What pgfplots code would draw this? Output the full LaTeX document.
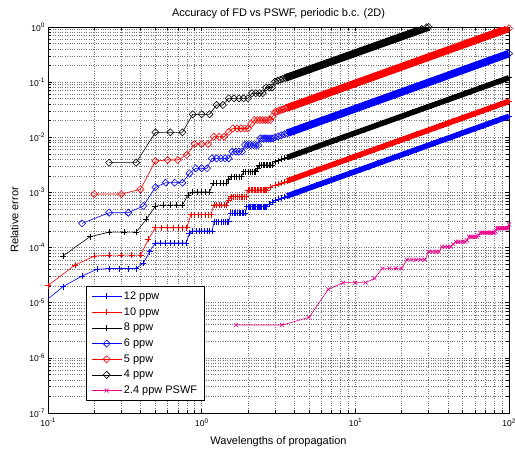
\documentclass[border=0pt]{standalone}
\usepackage{fontspec}
\setmainfont{Liberation Sans}
\usepackage{pgfplots}
\pgfplotsset{compat=1.18}
\newcommand{\tl}[1]{10\raisebox{0.85ex}{\fontsize{6.5}{7}\selectfont #1}}
\begin{document}
\begin{tikzpicture}
\begin{loglogaxis}[
 scale only axis, width=461bp, height=386bp,
 xmin=0.1, xmax=100, ymin=1e-7, ymax=1,
 xtick={0.1,1,10,100},
 xticklabels={\tl{-1},\tl{0},\tl{1},\tl{2}},
 ytick={1e-7,1e-6,1e-5,1e-4,1e-3,1e-2,1e-1,1},
 yticklabels={\tl{-7},\tl{-6},\tl{-5},\tl{-4},\tl{-3},\tl{-2},\tl{-1},\tl{0}},
 minor xtick={0.2,0.3,0.4,0.5,0.6,0.7,0.8,0.9,2,3,4,5,6,7,8,9,20,30,40,50,60,70,80,90},
 minor ytick={2e-7,3e-7,4e-7,5e-7,6e-7,7e-7,8e-7,9e-7,2e-6,3e-6,4e-6,5e-6,6e-6,7e-6,8e-6,9e-6,2e-5,3e-5,4e-5,5e-5,6e-5,7e-5,8e-5,9e-5,2e-4,3e-4,4e-4,5e-4,6e-4,7e-4,8e-4,9e-4,2e-3,3e-3,4e-3,5e-3,6e-3,7e-3,8e-3,9e-3,0.02,0.03,0.04,0.05,0.06,0.07,0.08,0.09,0.2,0.3,0.4,0.5,0.6,0.7,0.8,0.9},
 grid=both,
 major grid style={dotted, black!55, line width=0.5bp},
 minor grid style={dotted, black!55, line width=0.5bp},
 axis line style={line width=0.8bp},
 tick style={black, line width=0.5bp},
 tick label style={font=\fontsize{8.5}{10}\selectfont},
 xticklabel style={yshift=-2bp},
 label style={font=\fontsize{11}{13}\selectfont},
 xlabel style={yshift=-3bp},
 ylabel style={yshift=4bp},
 title style={font=\fontsize{11}{13}\selectfont, yshift=-1.5bp},
 title={Accuracy of FD vs PSWF, periodic b.c. (2D)},
 xlabel={Wavelengths of propagation},
 ylabel={Relative error},
 legend cell align=left,
 legend style={at={(0.0824,0.0311)}, anchor=south west, draw=black, line width=0.8bp, fill=white, font=\fontsize{11}{13}\selectfont, inner xsep=5bp, inner ysep=3.5bp, row sep=2.6bp},
 legend image code/.code={\draw[mark repeat=2,mark phase=2] plot coordinates {(0bp,0bp) (15bp,0bp) (30bp,0bp)};},
]
% 12 ppw
\addplot[blue, line width=5.5bp, forget plot] coordinates {(3.6,8.64e-4)(100,0.024)};
\addplot[blue, line width=0.6bp, mark=+, mark size=3bp, mark options={solid}] coordinates {
(0.083333,7.7e-6)(0.125,1.95e-5)(0.166667,3.05e-5)(0.208333,4.04e-5)(0.25,4.17e-5)(0.291667,4.17e-5)(0.333333,4.17e-5)(0.375,4.17e-5)(0.416667,5.18e-5)(0.458333,8.41e-5)(0.5,1.22e-4)(0.541667,1.22e-4)(0.583333,1.22e-4)(0.625,1.22e-4)(0.666667,1.22e-4)(0.708333,1.22e-4)(0.75,1.22e-4)(0.791667,1.22e-4)(0.833333,1.81e-4)(0.875,2.0e-4)(0.916667,2.0e-4)(0.958333,2.0e-4)(1,2.0e-4)(1.041667,2.0e-4)(1.083333,2.0e-4)(1.125,2.0e-4)(1.166667,2.0e-4)(1.208333,2.95e-4)(1.25,2.95e-4)(1.291667,2.95e-4)(1.333333,2.95e-4)(1.375,2.95e-4)(1.416667,2.95e-4)(1.458333,2.95e-4)(1.5,2.95e-4)(1.541667,4.17e-4)(1.583333,4.17e-4)(1.625,4.17e-4)(1.666667,4.17e-4)(1.708333,4.17e-4)(1.75,4.17e-4)(1.791667,4.17e-4)(1.833333,4.17e-4)(1.875,4.17e-4)(1.916667,4.17e-4)(1.958333,5.5e-4)(2,5.5e-4)(2.041667,5.5e-4)(2.083333,5.5e-4)(2.125,5.5e-4)(2.166667,5.5e-4)(2.208333,5.5e-4)(2.25,5.5e-4)(2.291667,5.5e-4)(2.333333,5.5e-4)(2.375,5.5e-4)(2.416667,5.5e-4)(2.458333,5.5e-4)(2.5,5.5e-4)(2.541667,5.5e-4)(2.583333,5.5e-4)(2.625,5.5e-4)(2.75,6.2e-4)(2.875,6.6e-4)
(3,7.2e-4)(3.15,7.56e-4)(3.3,7.92e-4)(3.45,8.28e-4)(3.6,8.64e-4)(4,9.6e-4)(4.4,1.056e-3)(4.8,1.152e-3)(5.2,1.248e-3)(5.6,1.344e-3)(6,1.44e-3)(6.5,1.56e-3)(7,1.68e-3)(7.5,1.8e-3)(8,1.92e-3)(8.6,2.064e-3)(9.2,2.208e-3)(10,2.4e-3)(10.7,2.568e-3)(11.5,2.76e-3)(12.3,2.952e-3)(13.2,3.168e-3)(14,3.36e-3)(15,3.6e-3)(16,3.84e-3)(17,4.08e-3)(18,4.32e-3)(19.2,4.608e-3)(20.5,4.92e-3)(22,5.28e-3)(23.5,5.64e-3)(25,6.0e-3)(27,6.48e-3)(29,6.96e-3)(31,7.44e-3)(33,7.92e-3)(35,8.4e-3)(37.5,9.0e-3)(40,9.6e-3)(43,0.01032)(46,0.01104)(49,0.01176)(52,0.01248)(56,0.01344)(60,0.0144)(64,0.01536)(68,0.01632)(73,0.01752)(78,0.01872)(83,0.01992)(88,0.02112)(94,0.02256)(100,0.024)};
\addlegendentry{12 ppw}
% 10 ppw
\addplot[red, line width=5.5bp, forget plot] coordinates {(3.6,1.62e-3)(100,0.045)};
\addplot[red, line width=0.6bp, mark=+, mark size=3bp, mark options={solid}] coordinates {
(0.1,2.05e-5)(0.15,4.83e-5)(0.2,7.0e-5)(0.25,7.3e-5)(0.3,7.3e-5)(0.35,7.3e-5)(0.4,7.3e-5)(0.45,1.41e-4)(0.5,2.29e-4)(0.55,2.29e-4)(0.6,2.29e-4)(0.65,2.29e-4)(0.7,2.29e-4)(0.75,2.29e-4)(0.8,2.29e-4)(0.85,3.98e-4)(0.9,3.98e-4)(0.95,3.98e-4)(1,3.98e-4)(1.05,3.98e-4)(1.1,3.98e-4)(1.15,3.98e-4)(1.2,5.92e-4)(1.25,5.92e-4)(1.3,5.92e-4)(1.35,5.92e-4)(1.4,5.92e-4)(1.45,5.92e-4)(1.5,7.2e-4)(1.55,8.38e-4)(1.6,8.38e-4)(1.65,8.38e-4)(1.7,8.38e-4)(1.75,8.38e-4)(1.8,8.38e-4)(1.85,8.38e-4)(1.9,8.38e-4)(1.95,8.38e-4)(2,1.107e-3)(2.05,1.107e-3)(2.1,1.107e-3)(2.15,1.107e-3)(2.2,1.107e-3)(2.25,1.107e-3)(2.3,1.107e-3)(2.35,1.107e-3)(2.4,1.107e-3)(2.45,1.107e-3)(2.5,1.107e-3)(2.55,1.107e-3)(2.6,1.107e-3)(2.65,1.107e-3)(2.8,1.25e-3)
(3,1.35e-3)(3.15,1.4175e-3)(3.3,1.485e-3)(3.45,1.5525e-3)(3.6,1.62e-3)(4,1.8e-3)(4.4,1.98e-3)(4.8,2.16e-3)(5.2,2.34e-3)(5.6,2.52e-3)(6,2.7e-3)(6.5,2.925e-3)(7,3.15e-3)(7.5,3.375e-3)(8,3.6e-3)(8.6,3.87e-3)(9.2,4.14e-3)(10,4.5e-3)(10.7,4.815e-3)(11.5,5.175e-3)(12.3,5.535e-3)(13.2,5.94e-3)(14,6.3e-3)(15,6.75e-3)(16,7.2e-3)(17,7.65e-3)(18,8.1e-3)(19.2,8.64e-3)(20.5,9.225e-3)(22,9.9e-3)(23.5,0.010575)(25,0.01125)(27,0.01215)(29,0.01305)(31,0.01395)(33,0.01485)(35,0.01575)(37.5,0.016875)(40,0.018)(43,0.01935)(46,0.0207)(49,0.02205)(52,0.0234)(56,0.0252)(60,0.027)(64,0.0288)(68,0.0306)(73,0.03285)(78,0.0351)(83,0.03735)(88,0.0396)(94,0.0423)(100,0.045)};
\addlegendentry{10 ppw}
% 8 ppw
\addplot[black, line width=5.5bp, forget plot] coordinates {(3.6,4.32e-3)(100,0.12)};
\addplot[black, line width=0.6bp, mark=+, mark size=3bp, mark options={solid}] coordinates {
(0.125,7.03e-5)(0.1875,1.574e-4)(0.25,1.905e-4)(0.3125,1.905e-4)(0.375,1.905e-4)(0.4375,3.3e-4)(0.5,5.6e-4)(0.5625,5.9e-4)(0.625,5.9e-4)(0.6875,5.9e-4)(0.75,5.9e-4)(0.8125,8.97e-4)(0.875,1.02e-3)(0.9375,1.02e-3)(1,1.02e-3)(1.0625,1.02e-3)(1.125,1.02e-3)(1.1875,1.462e-3)(1.25,1.462e-3)(1.3125,1.462e-3)(1.375,1.462e-3)(1.4375,1.462e-3)(1.5,1.7e-3)(1.5625,1.93e-3)(1.625,1.93e-3)(1.6875,1.93e-3)(1.75,1.93e-3)(1.8125,1.93e-3)(1.875,2.38e-3)(1.9375,2.38e-3)(2,2.38e-3)(2.0625,2.38e-3)(2.125,2.38e-3)(2.1875,2.38e-3)(2.25,2.38e-3)(2.3125,2.7e-3)(2.375,3.14e-3)(2.4375,3.14e-3)(2.5,3.14e-3)(2.5625,3.14e-3)(2.625,3.14e-3)(2.6875,3.14e-3)(2.75,3.14e-3)(2.8125,3.14e-3)(2.875,3.14e-3)
(3,3.6e-3)(3.15,3.78e-3)(3.3,3.96e-3)(3.45,4.14e-3)(3.6,4.32e-3)(4,4.8e-3)(4.4,5.28e-3)(4.8,5.76e-3)(5.2,6.24e-3)(5.6,6.72e-3)(6,7.2e-3)(6.5,7.8e-3)(7,8.4e-3)(7.5,9.0e-3)(8,9.6e-3)(8.6,0.01032)(9.2,0.01104)(10,0.012)(10.7,0.01284)(11.5,0.0138)(12.3,0.01476)(13.2,0.01584)(14,0.0168)(15,0.018)(16,0.0192)(17,0.0204)(18,0.0216)(19.2,0.02304)(20.5,0.0246)(22,0.0264)(23.5,0.0282)(25,0.03)(27,0.0324)(29,0.0348)(31,0.0372)(33,0.0396)(35,0.042)(37.5,0.045)(40,0.048)(43,0.0516)(46,0.0552)(49,0.0588)(52,0.0624)(56,0.0672)(60,0.072)(64,0.0768)(68,0.0816)(73,0.0876)(78,0.0936)(83,0.0996)(88,0.1056)(94,0.1128)(100,0.12)};
\addlegendentry{8 ppw}
% 6 ppw
\addplot[blue, line width=7.5bp, forget plot] coordinates {(3.6,0.01188)(100,0.33)};
\addplot[blue, line width=0.6bp, mark=square, mark size=2.5bp, mark options={solid, rotate=45}] coordinates {
(0.166667,2.75e-4)(0.25,4.29e-4)(0.333333,4.29e-4)(0.416667,5.68e-4)(0.5,1.239e-3)(0.583333,1.503e-3)(0.666667,1.503e-3)(0.75,1.503e-3)(0.833333,2.22e-3)(0.916667,2.75e-3)(1,2.75e-3)(1.083333,2.75e-3)(1.166667,4.15e-3)(1.25,4.15e-3)(1.333333,4.15e-3)(1.416667,4.15e-3)(1.5,4.15e-3)(1.583333,5.5e-3)(1.666667,5.5e-3)(1.75,5.5e-3)(1.833333,5.5e-3)(1.916667,7.24e-3)(2,7.24e-3)(2.083333,7.24e-3)(2.166667,7.24e-3)(2.25,7.24e-3)(2.333333,7.24e-3)(2.416667,9.55e-3)(2.5,9.55e-3)(2.583333,9.55e-3)(2.666667,9.55e-3)(2.75,9.55e-3)(2.833333,9.55e-3)(2.916667,9.55e-3)
(3,9.9e-3)(3.15,0.010395)(3.3,0.01089)(3.45,0.011385)(3.6,0.01188)(4,0.0132)(4.4,0.01452)(4.8,0.01584)(5.2,0.01716)(5.6,0.01848)(6,0.0198)(6.5,0.02145)(7,0.0231)(7.5,0.02475)(8,0.0264)(8.6,0.02838)(9.2,0.03036)(10,0.033)(10.7,0.03531)(11.5,0.03795)(12.3,0.04059)(13.2,0.04356)(14,0.0462)(15,0.0495)(16,0.0528)(17,0.0561)(18,0.0594)(19.2,0.06336)(20.5,0.06765)(22,0.0726)(23.5,0.07755)(25,0.0825)(27,0.0891)(29,0.0957)(31,0.1023)(33,0.1089)(35,0.1155)(37.5,0.12375)(40,0.132)(43,0.1419)(46,0.1518)(49,0.1617)(52,0.1716)(56,0.1848)(60,0.198)(64,0.2112)(68,0.2244)(73,0.2409)(78,0.2574)(83,0.2739)(88,0.2904)(94,0.3102)(100,0.33)};
\addlegendentry{6 ppw}
% 5 ppw
\addplot[red, line width=7.5bp, forget plot] coordinates {(3.6,0.0342)(100,0.95)};
\addplot[red, line width=0.6bp, mark=square, mark size=2.5bp, mark options={solid, rotate=45}] coordinates {
(0.2,9.35e-4)(0.3,9.35e-4)(0.4,1.138e-3)(0.5,3.72e-3)(0.6,3.87e-3)(0.7,3.87e-3)(0.8,4.79e-3)(0.9,7.55e-3)(1,7.55e-3)(1.1,7.55e-3)(1.2,0.01023)(1.3,0.01023)(1.4,0.01023)(1.5,0.0125)(1.6,0.01445)(1.7,0.01445)(1.8,0.01445)(1.9,0.01445)(2,0.01445)(2.1,0.0175)(2.2,0.02056)(2.3,0.02056)(2.4,0.02056)(2.5,0.02056)(2.6,0.02056)(2.7,0.02056)(2.8,0.02056)(2.9,0.024)
(3,0.0285)(3.1,0.02945)(3.2,0.0304)(3.3,0.03135)(3.4,0.0323)(3.5,0.03325)(3.6,0.0342)(4,0.038)(4.4,0.0418)(4.8,0.0456)(5.2,0.0494)(5.6,0.0532)(6,0.057)(6.5,0.06175)(7,0.0665)(7.5,0.07125)(8,0.076)(8.6,0.0817)(9.2,0.0874)(10,0.095)(10.7,0.10165)(11.5,0.10925)(12.3,0.11685)(13.2,0.1254)(14,0.133)(15,0.1425)(16,0.152)(17,0.1615)(18,0.171)(19.2,0.1824)(20.5,0.19475)(22,0.209)(23.5,0.22325)(25,0.2375)(27,0.2565)(29,0.2755)(31,0.2945)(33,0.3135)(35,0.3325)(37.5,0.35625)(40,0.38)(43,0.4085)(46,0.437)(49,0.4655)(52,0.494)(56,0.532)(60,0.57)(64,0.608)(68,0.646)(73,0.6935)(78,0.741)(83,0.7885)(88,0.836)(94,0.893)(100,0.95)};
\addlegendentry{5 ppw}
% 4 ppw
\addplot[black, line width=7.5bp, forget plot] coordinates {(3.5,0.119)(30,1.0)};
\addplot[black, line width=0.6bp, mark=square, mark size=2.5bp, mark options={solid, rotate=45}] coordinates {
(0.25,3.47e-3)(0.375,3.47e-3)(0.5,0.0123)(0.625,0.0123)(0.75,0.0123)(0.875,0.0261)(1,0.0261)(1.125,0.0261)(1.25,0.0385)(1.375,0.0385)(1.5,0.0509)(1.625,0.0509)(1.75,0.0509)(1.875,0.0509)(2,0.0509)(2.125,0.063)(2.25,0.063)(2.375,0.063)(2.5,0.063)(2.625,0.08)(2.75,0.08)(2.875,0.08)
(3,0.102)(3.125,0.10625)(3.25,0.1105)(3.375,0.11475)(3.5,0.119)(3.6,0.1224)(4,0.136)(4.4,0.1496)(4.8,0.1632)(5.2,0.1768)(5.6,0.1904)(6,0.204)(6.5,0.221)(7,0.238)(7.5,0.255)(8,0.272)(8.6,0.2924)(9.2,0.3128)(10,0.34)(10.7,0.3638)(11.5,0.391)(12.3,0.4182)(13.2,0.4488)(14,0.476)(15,0.51)(16,0.544)(17,0.578)(18,0.612)(19.2,0.6528)(20.5,0.697)(22,0.748)(23.5,0.799)(25,0.85)(27,0.918)(29,0.986)(30,1.0)};
\addlegendentry{4 ppw}
% 2.4 ppw PSWF
\addplot[magenta, line width=0.6bp, mark=x, mark size=2.8bp, mark options={solid}] coordinates {
(1.6667,3.94e-6)(3.3333,3.94e-6)(5,5.43e-6)(6.6667,1.75e-5)(8.3333,2.31e-5)(10,2.31e-5)(11.667,2.31e-5)(13.333,2.77e-5)(15,4.2e-5)(16.667,4.2e-5)(18.333,4.2e-5)(20,4.2e-5)(21.667,6.03e-5)(23.333,6.03e-5)(25,6.03e-5)(26.667,6.03e-5)(28.333,6.03e-5)(30,8.41e-5)(31.667,8.41e-5)(33.333,8.41e-5)(35,8.41e-5)(36.667,1.035e-4)(38.333,1.035e-4)(40,1.035e-4)(41.667,1.035e-4)(43.333,1.15e-4)(45,1.276e-4)(46.667,1.276e-4)(48.333,1.276e-4)(50,1.276e-4)(51.667,1.276e-4)(53.333,1.35e-4)(55,1.574e-4)(56.667,1.574e-4)(58.333,1.574e-4)(60,1.574e-4)(61.667,1.574e-4)(63.333,1.65e-4)(65,1.862e-4)(66.667,1.862e-4)(68.333,1.862e-4)(70,1.862e-4)(71.667,1.862e-4)(73.333,1.862e-4)(75,1.862e-4)(76.667,1.862e-4)(78.333,1.862e-4)(80,1.862e-4)(81.667,1.95e-4)(83.333,2.24e-4)(85,2.24e-4)(86.667,2.24e-4)(88.333,2.24e-4)(90,2.24e-4)(91.667,2.24e-4)(93.333,2.24e-4)(95,2.24e-4)(96.667,2.24e-4)(98.333,2.24e-4)(100,2.63e-4)};
\addlegendentry{2.4 ppw PSWF}
\end{loglogaxis}
\pgfresetboundingbox
\path[use as bounding box] ([shift={(-48bp,-35bp)}]current axis.south west) rectangle ([shift={(6bp,27bp)}]current axis.north east);
\end{tikzpicture}
\end{document}
